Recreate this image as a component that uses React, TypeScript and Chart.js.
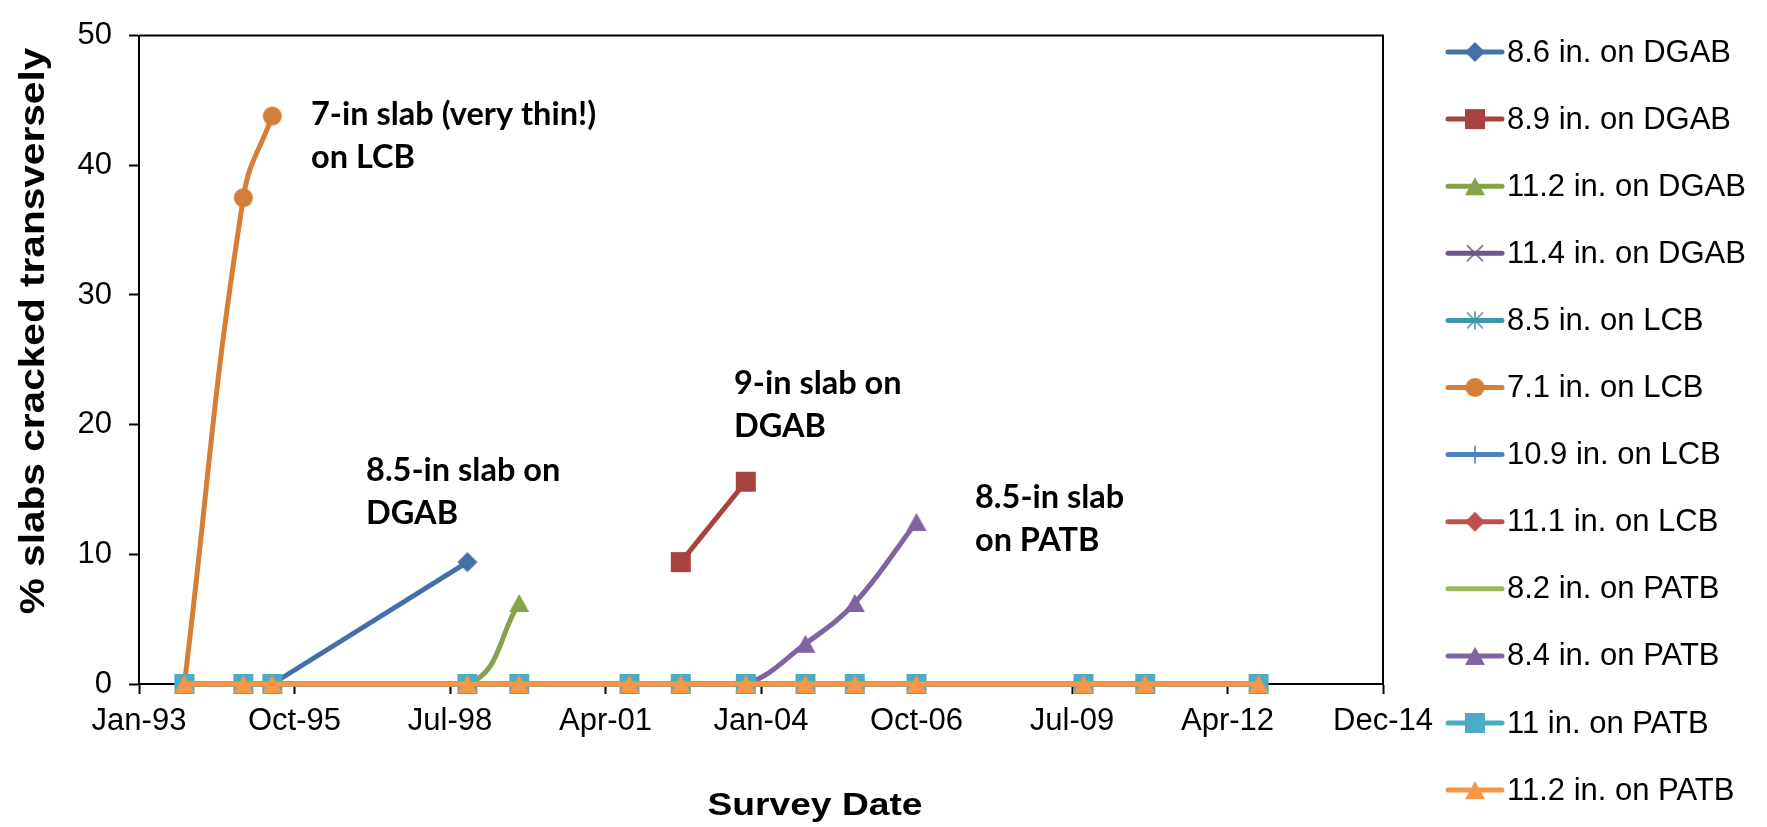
import React, { useEffect, useRef } from "react";
import { Chart, registerables } from "chart.js";

Chart.register(...registerables);

// ---------- DATA ----------
// Survey dates (one column per survey)
const surveyDates = [
  "1993-11-19", "1994-12-03", "1995-06-07", "1998-11-13", "1999-10-12",
  "2001-09-20", "2002-08-16", "2003-10-08", "2004-10-26", "2005-09-08",
  "2006-10-10", "2009-09-18", "2010-10-20", "2012-10-18",
];

const seriesNames = [
  "8.6 in. on DGAB", "8.9 in. on DGAB", "11.2 in. on DGAB", "11.4 in. on DGAB",
  "8.5 in. on LCB", "7.1 in. on LCB", "10.9 in. on LCB", "11.1 in. on LCB",
  "8.2 in. on PATB", "8.4 in. on PATB", "11 in. on PATB", "11.2 in. on PATB",
];

// % slabs cracked transversely, aligned with surveyDates (null = not surveyed)
const dgab86 = [0, 0, 0, 9.4, null, null, null, null, null, null, null, null, null, null];
const dgab89 = [null, null, null, null, null, null, 9.4, 15.6, null, null, null, null, null, null];
const dgab112 = [0, 0, 0, 0, 6.25, null, null, null, null, null, null, null, null, null];
const dgab114 = [0, 0, 0, 0, 0, 0, 0, 0, 0, 0, 0, 0, 0, 0];
const lcb85 = [0, 0, 0, 0, 0, 0, 0, 0, 0, 0, 0, 0, 0, 0];
const lcb71 = [0, 37.5, 43.8, null, null, null, null, null, null, null, null, null, null, null];
const lcb109 = [0, 0, 0, 0, 0, 0, 0, 0, 0, 0, 0, 0, 0, 0];
const lcb111 = [0, 0, 0, 0, 0, 0, 0, 0, 0, 0, 0, 0, 0, 0];
const patb82 = [0, 0, 0, 0, 0, 0, 0, 0, 0, 0, 0, 0, 0, 0];
const patb84 = [null, null, null, null, null, null, 0, 0, 3.1, 6.25, 12.5, null, null, null];
const patb11 = [0, 0, 0, 0, 0, 0, 0, 0, 0, 0, 0, 0, 0, 0];
const patb112 = [0, 0, 0, 0, 0, 0, 0, 0, 0, 0, 0, 0, 0, 0];

const seriesValues = [dgab86, dgab89, dgab112, dgab114, lcb85, lcb71, lcb109, lcb111, patb82, patb84, patb11, patb112];

// Axis (Excel date serials)
const xMin = 34000;
const xMax = 42000;
const xStep = 1000;
const yMin = 0;
const yMax = 50;
const yStep = 10;

const xTitle = "Survey Date";
const yTitle = "% slabs cracked transversely";

// Text annotations (x = date serial, y = % at first line baseline)
const annotations = [
  { lines: ["7-in slab (very thin!)", "on LCB"], x: 35106, y: 43.1 },
  { lines: ["8.5-in slab on", "DGAB"], x: 35460, y: 15.65 },
  { lines: ["9-in slab on", "DGAB"], x: 37826, y: 22.4 },
  { lines: ["8.5-in slab", "on PATB"], x: 39376, y: 13.6 },
];

// ---------- STYLES ----------
const colors = [
  "#4470A8", "#A8423F", "#86A34B", "#6E568E", "#3F96AC", "#D47E38",
  "#4F81BD", "#C0504D", "#9BBB59", "#8064A2", "#4BACC6", "#F79646",
];
const markerKinds = [
  "diamond", "square", "triangle", "x", "star", "circle",
  "plus", "diamond", "none", "triangle", "square", "triangle",
];
const tensions = [0, 0, 0.4, 0.4, 0.4, 0.45, 0.4, 0.4, 0.4, 0.4, 0.4, 0.4];

const FONT = '"Liberation Sans", Arial, Helvetica, sans-serif';
const ANNOT_FONT = 'Lato, "Open Sans", sans-serif';
const MONTHS = ["Jan", "Feb", "Mar", "Apr", "May", "Jun", "Jul", "Aug", "Sep", "Oct", "Nov", "Dec"];

function toSerial(iso: string): number {
  const [y, m, d] = iso.split("-").map(Number);
  return Date.UTC(y, m - 1, d) / 86400000 + 25569;
}
function serialToLabel(v: number): string {
  const dt = new Date(Date.UTC(1899, 11, 30) + v * 86400000);
  return MONTHS[dt.getUTCMonth()] + "-" + String(dt.getUTCFullYear()).slice(2);
}

function makeMarker(kind: string, color: string): HTMLCanvasElement | null {
  if (kind === "none") return null;
  const sizes: Record<string, [number, number]> = {
    diamond: [20, 20], square: [20, 20], triangle: [20, 18], circle: [19, 19],
    x: [20, 18], star: [20, 18], plus: [18, 18],
  };
  const [w, h] = sizes[kind];
  const c = document.createElement("canvas");
  c.width = w + 4;
  c.height = h + 4;
  const g = c.getContext("2d")!;
  const cx = c.width / 2;
  const cy = c.height / 2;
  g.fillStyle = color;
  g.strokeStyle = color;
  g.lineWidth = 1;
  g.beginPath();
  if (kind === "diamond") {
    g.moveTo(cx, cy - h / 2); g.lineTo(cx + w / 2, cy); g.lineTo(cx, cy + h / 2); g.lineTo(cx - w / 2, cy); g.closePath(); g.fill();
  } else if (kind === "square") {
    g.rect(cx - w / 2, cy - h / 2, w, h); g.fill();
  } else if (kind === "triangle") {
    g.moveTo(cx, cy - h / 2); g.lineTo(cx + w / 2, cy + h / 2); g.lineTo(cx - w / 2, cy + h / 2); g.closePath(); g.fill();
  } else if (kind === "circle") {
    g.arc(cx, cy, w / 2, 0, Math.PI * 2); g.fill();
  } else {
    g.lineWidth = 1.6;
    if (kind === "x" || kind === "star") {
      g.moveTo(cx - w / 2 + 2, cy - h / 2 + 1); g.lineTo(cx + w / 2 - 2, cy + h / 2 - 1);
      g.moveTo(cx + w / 2 - 2, cy - h / 2 + 1); g.lineTo(cx - w / 2 + 2, cy + h / 2 - 1);
    }
    if (kind === "star" || kind === "plus") {
      g.moveTo(cx, cy - h / 2); g.lineTo(cx, cy + h / 2);
    }
    if (kind === "plus") {
      g.moveTo(cx - w / 2, cy); g.lineTo(cx + w / 2, cy);
    }
    g.stroke();
  }
  return c;
}

export default function App() {
  const canvasRef = useRef<HTMLCanvasElement | null>(null);

  useEffect(() => {
    document.body.style.margin = "0";
    const canvas = canvasRef.current;
    if (!canvas) return;

    const markers = markerKinds.map((k, i) => makeMarker(k, colors[i]));

    const datasets = seriesNames.map((name, i) => ({
      label: name,
      data: surveyDates
        .map((d, j) => (seriesValues[i][j] == null ? null : { x: toSerial(d), y: seriesValues[i][j] as number }))
        .filter((p) => p !== null),
      showLine: true,
      clip: false,
      borderColor: colors[i],
      backgroundColor: colors[i],
      borderWidth: 5,
      borderCapStyle: "round" as const,
      borderJoinStyle: "round" as const,
      pointStyle: (markers[i] || "circle") as any,
      pointRadius: markers[i] ? 10 : 0,
      tension: tensions[i],
      order: seriesNames.length - i,
    }));

    const overlay = {
      id: "overlay",
      afterDraw(chart: any) {
        const ctx: CanvasRenderingContext2D = chart.ctx;
        const a = chart.chartArea;
        ctx.save();
        // plot-area border (top and right)
        ctx.strokeStyle = "#000";
        ctx.lineWidth = 2;
        ctx.beginPath();
        ctx.moveTo(a.left, a.top);
        ctx.lineTo(a.right, a.top);
        ctx.lineTo(a.right, a.bottom);
        ctx.stroke();

        // annotations
        ctx.fillStyle = "#000";
        ctx.font = `bold 32.5px ${ANNOT_FONT}`;
        ctx.textAlign = "left";
        ctx.textBaseline = "alphabetic";
        annotations.forEach((an) => {
          const px = chart.scales.x.getPixelForValue(an.x);
          const py = chart.scales.y.getPixelForValue(an.y);
          an.lines.forEach((t, k) => ctx.fillText(t, px, py + k * 43));
        });

        // axis titles
        ctx.textAlign = "center";
        ctx.textBaseline = "middle";
        ctx.save();
        ctx.translate(815, 806);
        ctx.scale(1.2, 1);
        ctx.font = `bold 31px ${FONT}`;
        ctx.fillText(xTitle, 0, 0);
        ctx.restore();

        ctx.save();
        ctx.translate(34, 331);
        ctx.rotate(-Math.PI / 2);
        ctx.scale(1.16, 1);
        ctx.font = `bold 35px ${FONT}`;
        ctx.fillText(yTitle, 0, 0);
        ctx.restore();

        // legend
        ctx.textAlign = "left";
        ctx.textBaseline = "middle";
        ctx.font = `31px ${FONT}`;
        seriesNames.forEach((name, i) => {
          const y = 52 + i * 67.1;
          ctx.strokeStyle = colors[i];
          ctx.lineWidth = 5;
          ctx.lineCap = "round";
          ctx.beginPath();
          ctx.moveTo(1448, y);
          ctx.lineTo(1502, y);
          ctx.stroke();
          const m = markers[i];
          if (m) ctx.drawImage(m, 1475 - m.width / 2, y - m.height / 2);
          ctx.fillStyle = "#000";
          ctx.fillText(name, 1507, y + 1);
        });
        ctx.restore();
      },
    };

    const chart = new Chart(canvas, {
      type: "scatter",
      data: { datasets: datasets as any },
      options: {
        animation: false,
        responsive: false,
        devicePixelRatio: 1,
        events: [],
        layout: { padding: { top: 20, right: 384, bottom: 0, left: 0 } },
        plugins: { legend: { display: false }, tooltip: { enabled: false } },
        scales: {
          x: {
            type: "linear",
            min: xMin,
            max: xMax,
            afterFit: (s: any) => { s.height = 143; },
            ticks: {
              stepSize: xStep,
              autoSkip: false,
              maxRotation: 0,
              padding: 9,
              color: "#000",
              font: { family: FONT, size: 31 },
              callback: (v: any) => serialToLabel(Number(v)),
            },
            grid: { drawOnChartArea: false, drawTicks: true, tickLength: 10, tickWidth: 2, tickColor: "#000" },
            border: { display: true, color: "#000", width: 2 },
          },
          y: {
            min: yMin,
            max: yMax,
            afterFit: (s: any) => { s.width = 139; },
            ticks: {
              stepSize: yStep,
              padding: 17,
              color: "#000",
              font: { family: FONT, size: 31 },
            },
            grid: { drawOnChartArea: false, drawTicks: true, tickLength: 10, tickWidth: 2, tickColor: "#000" },
            border: { display: true, color: "#000", width: 2 },
          },
        },
      },
      plugins: [overlay],
    });

    return () => chart.destroy();
  }, []);

  return (
    <div style={{ width: 1767, height: 827, background: "#fff" }}>
      <canvas ref={canvasRef} width={1767} height={827} style={{ display: "block" }} />
    </div>
  );
}
